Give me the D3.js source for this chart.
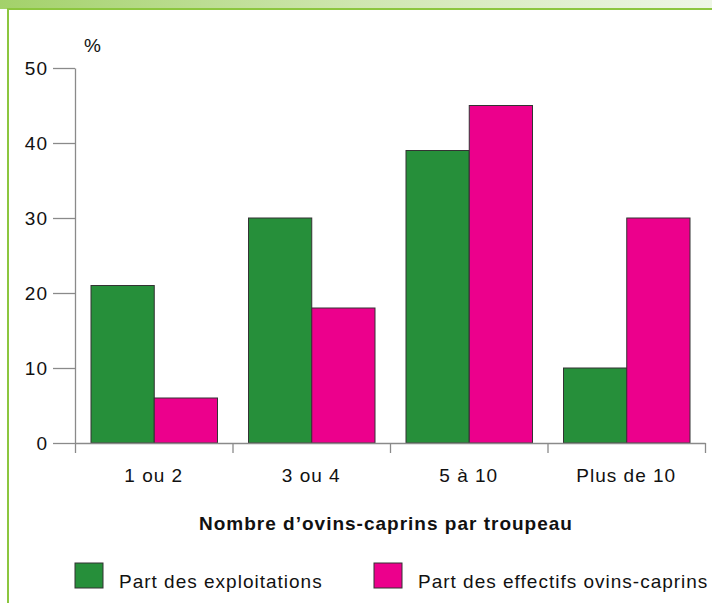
<!DOCTYPE html>
<html>
<head>
<meta charset="utf-8">
<script src="https://cdn.jsdelivr.net/npm/d3@7"></script>
<style>
  body { margin: 0; background: #fff; }
  svg text { font-family: "Liberation Sans", Arial, sans-serif; font-size: 19px; letter-spacing: 1px; fill: #111; }
  .axis path, .axis line { stroke: #8a8a8a; stroke-width: 1.3px; }
  rect.bar { stroke: #333; stroke-width: 1px; }
</style>
</head>
<body>
<div id="chart"></div>
<script>
// data
var categories = ["1 ou 2", "3 ou 4", "5 à 10", "Plus de 10"];
var seriesNames = ["Part des exploitations", "Part des effectifs ovins-caprins"];
var exploitations = [21, 30, 39, 10];
var effectifs = [6, 18, 45, 30];
var yTicks = [0, 10, 20, 30, 40, 50];
var colors = ["#268f3a", "#ec008c"];

var W = 712, H = 603;
var m = { top: 68, right: 7, bottom: 160, left: 75 },
  width = W - m.left - m.right,
  height = H - m.top - m.bottom;

var svg = d3.select("#chart").append("svg")
  .attr("width", W)
  .attr("height", H);

// frame: gradient band on top, green line left
var grad = svg.append("defs").append("linearGradient")
  .attr("id", "band")
  .attr("x1", "0%").attr("x2", "100%");
grad.append("stop").attr("offset", "0%").attr("stop-color", "#a3d16a");
grad.append("stop").attr("offset", "50%").attr("stop-color", "#cfe6b0");
grad.append("stop").attr("offset", "100%").attr("stop-color", "#eef6e6");
svg.append("rect").attr("x", 0).attr("y", 0).attr("width", W).attr("height", 9)
  .attr("fill", "url(#band)");
svg.append("rect").attr("x", 7).attr("y", 8).attr("width", W - 7).attr("height", 2)
  .attr("fill", "#8cc63f");
svg.append("rect").attr("x", 7).attr("y", 8).attr("width", 2).attr("height", H - 8)
  .attr("fill", "#8cc63f");

var g = svg.append("g").attr("transform", "translate(" + m.left + "," + m.top + ")");

var x = d3.scaleBand().domain(categories).range([0, width]).paddingInner(0).paddingOuter(0);
var x1 = d3.scaleBand().domain(d3.range(2)).range([16, x.bandwidth() - 15]);
var y = d3.scaleLinear().domain([0, 50]).range([height, 0]);

// bars
var groups = g.selectAll("g.cat")
  .data(categories)
  .enter().append("g")
  .attr("class", "cat")
  .attr("transform", function(d) { return "translate(" + x(d) + ",0)"; });

groups.selectAll("rect")
  .data(function(d, i) { return [exploitations[i], effectifs[i]]; })
  .enter().append("rect")
  .attr("class", "bar")
  .attr("x", function(d, i) { return x1(i); })
  .attr("y", function(d) { return y(d); })
  .attr("width", x1.bandwidth())
  .attr("height", function(d) { return height - y(d); })
  .attr("fill", function(d, i) { return colors[i]; });

// y axis
var yAxis = d3.axisLeft(y).tickValues(yTicks).tickSize(22).tickPadding(5).tickSizeOuter(0);
g.append("g").attr("class", "axis y").call(yAxis);
g.append("text")
  .attr("x", 9).attr("y", -16)
  .text("%");

// x axis: ticks at category boundaries
var xb = d3.scaleLinear().domain([0, categories.length]).range([0, width]);
var xAxis = d3.axisBottom(xb).ticks(categories.length).tickSize(10).tickFormat("").tickSizeOuter(0);
g.append("g").attr("class", "axis x")
  .attr("transform", "translate(0," + height + ")")
  .call(xAxis);
g.append("g")
  .attr("transform", "translate(0," + height + ")")
  .selectAll("text")
  .data(categories)
  .enter().append("text")
  .attr("x", function(d) { return x(d) + x.bandwidth() / 2; })
  .attr("y", 39)
  .attr("text-anchor", "middle")
  .text(function(d) { return d; });

// axis title
svg.append("text")
  .attr("x", 386).attr("y", 530)
  .attr("text-anchor", "middle")
  .style("font-weight", "bold")
  .text("Nombre d’ovins-caprins par troupeau");

// legend
var legendX = [75, 374];
var lg = svg.selectAll("g.legend")
  .data(seriesNames)
  .enter().append("g")
  .attr("class", "legend")
  .attr("transform", function(d, i) { return "translate(" + legendX[i] + ",563)"; });
lg.append("rect")
  .attr("width", 28).attr("height", 25)
  .attr("fill", function(d, i) { return colors[i]; })
  .attr("stroke", "#333");
lg.append("text")
  .attr("x", 44)
  .attr("y", 25)
  .text(function(d) { return d; });
</script>
</body>
</html>
